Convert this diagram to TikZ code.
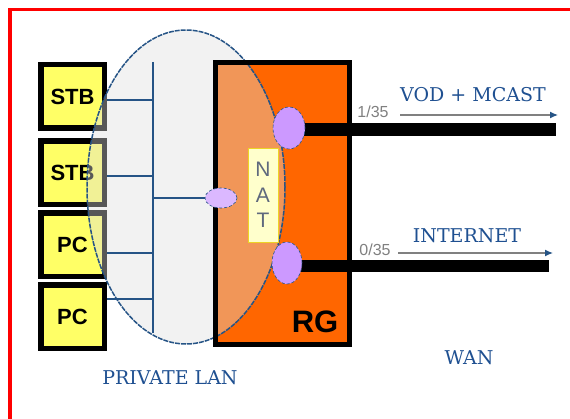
\documentclass[tikz,border=0pt]{standalone}
\usepackage{fontspec}
\setmainfont{DejaVu Serif}
\newfontfamily\boxfont{Liberation Sans}
\usepackage{xcolor}
\usetikzlibrary{shapes.geometric,arrows.meta,positioning}

\definecolor{framered}{RGB}{255,0,0}
\definecolor{boxyellow}{RGB}{255,255,102}
\definecolor{rgorange}{RGB}{255,102,0}
\definecolor{lanfill}{RGB}{222,222,222}
\definecolor{lanblue}{RGB}{38,84,134}
\definecolor{textblue}{RGB}{31,80,145}
\definecolor{portpurple}{RGB}{204,153,255}
\definecolor{natyellow}{RGB}{255,255,204}
\definecolor{natgray}{RGB}{95,105,125}

\tikzset{
  device/.style={draw=black, line width=5.5pt, fill=boxyellow, minimum width=63.5pt,
    minimum height=63.5pt, inner sep=0pt, font=\boxfont\bfseries\fontsize{22}{22}\selectfont},
  lanzone/.style={ellipse, draw=lanblue, dash pattern=on 5pt off 1pt, line width=1.5pt,
    fill=lanfill, fill opacity=0.4, minimum width=198pt, minimum height=314pt, inner sep=0pt},
  port/.style={ellipse, draw=lanblue, densely dashed, line width=0.6pt, fill=portpurple, inner sep=0pt},
  link/.style={line width=13pt},
  tap/.style={lanblue, line width=2pt},
  flow/.style={gray, line width=1.2pt, -{Latex[length=8pt,width=7pt,color=lanblue]}},
  bluetext/.style={text=textblue, font=\fontsize{19}{19}\selectfont, inner sep=0pt},
  vctext/.style={text=gray, font=\boxfont\fontsize{16}{16}\selectfont, inner sep=0pt}
}

\begin{document}
\begin{tikzpicture}[x=1pt,y=-1pt]

\useasboundingbox (0,0) rectangle (570,419);

% Frame
\draw[framered, line width=3.5pt] (10,430) -- (10,9.5) -- (580,9.5);

% Set-top boxes and PCs
\node[device] (stbA) at (72.5,96.5) {STB};
\node[device] (stbB) at (72.5,173) {STB};
\node[device] (pcA) at (72.5,245) {PC};
\node[device] (pcB) at (72.5,317) {PC};

% Residential gateway
\node[fill=rgorange, minimum width=134pt, minimum height=282pt, outer sep=0pt] (rg) at (282.5,203.5) {};

% Private LAN
\node[lanzone] (lan) at (186,187) {};
\draw[line width=5pt] (rg.north west) rectangle (rg.south east);

% Bus
\coordinate (busTop) at (153,62);
\coordinate (busBot) at (153,333);
\coordinate (tapA) at (153,100);
\coordinate (tapB) at (153,176);
\coordinate (tapC) at (153,253);
\coordinate (tapD) at (153,299);
\coordinate (tapN) at (153,198);
\draw[tap] (busTop) -- (busBot);
\draw[tap] (stbA.east |- tapA) -- (tapA);
\draw[tap] (stbB.east |- tapB) -- (tapB);
\draw[tap] (pcA.east |- tapC) -- (tapC);
\draw[tap, line width=2.5pt] (pcB.east |- tapD) -- (tapD);

% NAT
\node[fill=natyellow, draw=yellow!70!brown, line width=0.6pt, minimum width=30pt, minimum height=94pt,
  inner sep=0pt, align=center, text=natgray, font=\boxfont\fontsize{21}{25.5}\selectfont]
  (nat) at (263,195) {N\\A\\T};
\node[port, minimum width=32pt, minimum height=20pt, fill=portpurple!70] (lanport) at (221,198) {};
\draw[tap] (tapN) -- (lanport.west);

% WAN links
\coordinate (lanA) at (289,130);
\coordinate (wanA) at (556,130);
\coordinate (lanB) at (287,266);
\coordinate (wanB) at (549,266);
\draw[link] (lanA) -- (wanA);
\draw[link, line width=12pt] (lanB) -- (wanB);
\node[port, minimum width=32pt, minimum height=42pt] (portA) at (289,128) {};
\node[port, minimum width=30pt, minimum height=42pt] (portB) at (287,263) {};

% Flows
\coordinate (vodA) at (400,115);
\coordinate (vodB) at (558,115);
\coordinate (netA) at (398,253);
\coordinate (netB) at (553,253);
\draw[flow] (vodA) -- (vodB);
\draw[flow] (netA) -- (netB);

% Labels
\node[vctext] (vcA) at (373,112) {1/35};
\node[vctext] (vcB) at (375,250) {0/35};
\node[bluetext] (vod) at (473,95) {VOD + MCAST};
\node[bluetext] (internet) at (467,236) {INTERNET};
\node[bluetext] (wan) at (469,358) {WAN};
\node[bluetext] (private) at (170,378) {PRIVATE LAN};
\node[inner sep=0pt, font=\boxfont\bfseries\fontsize{31}{31}\selectfont] (rglabel) at (315,322) {RG};

\end{tikzpicture}
\end{document}
